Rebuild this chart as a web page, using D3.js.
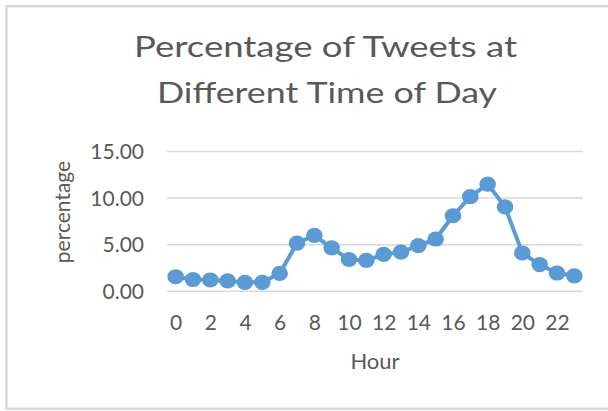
<!DOCTYPE html>
<html>
<head>
<meta charset="utf-8">
<script src="https://cdn.jsdelivr.net/npm/d3@7"></script>
<style>
  body { margin: 0; background: #fff; }
  text { font-family: Lato, "Open Sans", sans-serif; fill: #595959; }
</style>
</head>
<body>
<div id="d3-container"></div>
<script>
/* CONSTANTS AND GLOBALS */
const width = 608,
  height = 411,
  margin = { top: 151, bottom: 120.3, left: 167, right: 25 },
  lineColor = "#5b9bd5",
  gridColor = "#d9d9d9";

/* DATA */
const hours = [0, 1, 2, 3, 4, 5, 6, 7, 8, 9, 10, 11, 12, 13, 14, 15, 16, 17, 18, 19, 20, 21, 22, 23];
const percentages = [1.5, 1.2, 1.15, 1.05, 0.9, 0.9, 1.85, 5.1, 5.95, 4.6, 3.35, 3.25,
  3.9, 4.15, 4.85, 5.55, 8.05, 10.1, 11.45, 9.0, 4.05, 2.8, 1.9, 1.6];
const yTicks = [0, 5, 10, 15];
const xTicks = [0, 2, 4, 6, 8, 10, 12, 14, 16, 18, 20, 22];
const titleLines = ["Percentage of Tweets at", "Different Time of Day"];

const data = hours.map((h, i) => ({ hour: h, pct: percentages[i] }));

const svg = d3
  .select("#d3-container")
  .append("svg")
  .attr("width", width)
  .attr("height", height);

// chart border
svg.append("rect")
  .attr("x", 6.5)
  .attr("y", 6.2)
  .attr("width", 640)
  .attr("height", 402.5)
  .attr("fill", "none")
  .attr("stroke", gridColor)
  .attr("stroke-width", 2.5);

// + SCALES
const xScale = d3.scalePoint()
  .domain(hours)
  .range([margin.left, width - margin.right])
  .padding(0.5);

const yScale = d3.scaleLinear()
  .domain([0, 15])
  .range([height - margin.bottom, margin.top]);

// + AXES
const yAxis = d3.axisLeft(yScale)
  .tickValues(yTicks)
  .tickFormat(d3.format(".2f"))
  .tickSize(-(width - margin.right - margin.left))
  .tickPadding(23);

svg.append("g")
  .attr("class", "axis y-axis")
  .attr("transform", `translate(${margin.left},0)`)
  .call(yAxis)
  .call(g => g.select(".domain").remove())
  .call(g => g.selectAll(".tick line").attr("stroke", gridColor).attr("stroke-width", 1.5))
  .call(g => g.selectAll(".tick text")
    .attr("fill", "#595959")
    .style("font-size", "21px")
    .attr("dy", "0.36em"));

const xAxis = d3.axisBottom(xScale)
  .tickValues(xTicks)
  .tickSize(0);

svg.append("g")
  .attr("class", "axis x-axis")
  .attr("transform", `translate(0,${height - margin.bottom})`)
  .call(xAxis)
  .call(g => g.select(".domain").remove())
  .call(g => g.selectAll(".tick text")
    .attr("fill", "#595959")
    .style("font-size", "21px")
    .attr("y", 39)
    .attr("dy", 0));

// axis titles
svg.append("text")
  .attr("transform", "translate(70,212) rotate(-90)")
  .attr("text-anchor", "middle")
  .style("font-size", "21px")
  .text("percentage");

svg.append("text")
  .attr("x", 375)
  .attr("y", 369)
  .attr("text-anchor", "middle")
  .style("font-size", "22px")
  .text("Hour");

// chart title
svg.append("text")
  .attr("x", 134)
  .attr("y", 57)
  .attr("textLength", 383)
  .attr("lengthAdjust", "spacingAndGlyphs")
  .style("font-size", "28px")
  .text(titleLines[0]);

svg.append("text")
  .attr("x", 157)
  .attr("y", 103)
  .attr("textLength", 340)
  .attr("lengthAdjust", "spacingAndGlyphs")
  .style("font-size", "28px")
  .text(titleLines[1]);

// + LINE AND MARKERS
const line = d3.line()
  .x(d => xScale(d.hour))
  .y(d => yScale(d.pct));

svg.append("path")
  .datum(data)
  .attr("fill", "none")
  .attr("stroke", lineColor)
  .attr("stroke-width", 4)
  .attr("stroke-linejoin", "round")
  .attr("d", line);

svg.selectAll(".dot")
  .data(data)
  .join("ellipse")
  .attr("class", "dot")
  .attr("cx", d => xScale(d.hour))
  .attr("cy", d => yScale(d.pct))
  .attr("rx", 8.3)
  .attr("ry", 7.6)
  .attr("fill", lineColor);
</script>
</body>
</html>
